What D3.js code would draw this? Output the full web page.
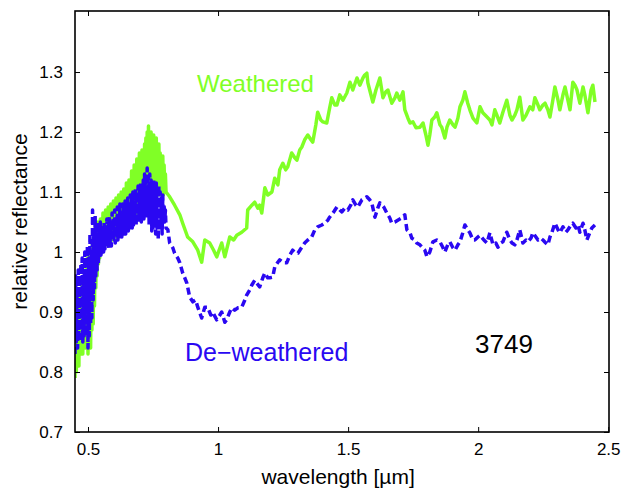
<!DOCTYPE html>
<html>
<head>
<meta charset="utf-8">
<script src="https://cdn.jsdelivr.net/npm/d3@7"></script>
<style>
  html, body { margin: 0; padding: 0; background: #fff; }
  svg { display: block; }
  text { font-family: "Liberation Sans", Arial, Helvetica, sans-serif; }
</style>
</head>
<body>
<svg id="chart" width="624" height="491"></svg>
<script>
// Reflectance spectra of asteroid 3749: weathered vs. de-weathered

// Visible range (dense, noisy CCD spectrum), shared wavelength grid [µm]
const visWavelength = [
  0.4500, 0.4525, 0.4550, 0.4575, 0.4600, 0.4625, 0.4650, 0.4675, 0.4700, 0.4725,
  0.4750, 0.4775, 0.4800, 0.4825, 0.4850, 0.4875, 0.4900, 0.4925, 0.4950, 0.4975,
  0.5000, 0.5025, 0.5050, 0.5075, 0.5100, 0.5125, 0.5150, 0.5175, 0.5200, 0.5225,
  0.5250, 0.5275, 0.5300, 0.5325, 0.5350, 0.5375, 0.5400, 0.5425, 0.5450, 0.5475,
  0.5500, 0.5525, 0.5550, 0.5575, 0.5600, 0.5625, 0.5650, 0.5675, 0.5700, 0.5725,
  0.5750, 0.5775, 0.5800, 0.5825, 0.5850, 0.5875, 0.5900, 0.5925, 0.5950, 0.5975,
  0.6000, 0.6025, 0.6050, 0.6075, 0.6100, 0.6125, 0.6150, 0.6175, 0.6200, 0.6225,
  0.6250, 0.6275, 0.6300, 0.6325, 0.6350, 0.6375, 0.6400, 0.6425, 0.6450, 0.6475,
  0.6500, 0.6525, 0.6550, 0.6575, 0.6600, 0.6625, 0.6650, 0.6675, 0.6700, 0.6725,
  0.6750, 0.6775, 0.6800, 0.6825, 0.6850, 0.6875, 0.6900, 0.6925, 0.6950, 0.6975,
  0.7000, 0.7025, 0.7050, 0.7075, 0.7100, 0.7125, 0.7150, 0.7175, 0.7200, 0.7225,
  0.7250, 0.7275, 0.7300, 0.7325, 0.7350, 0.7375, 0.7400, 0.7425, 0.7450, 0.7475,
  0.7500, 0.7525, 0.7550, 0.7575, 0.7600, 0.7625, 0.7650, 0.7675, 0.7700, 0.7725,
  0.7750, 0.7775, 0.7800, 0.7825, 0.7850, 0.7875, 0.7900, 0.7925, 0.7950, 0.7975,
  0.8000
];
const visWeathered = [
  0.79, 0.88, 0.80, 0.91, 0.82, 0.86, 0.81, 0.93, 0.83, 0.90,
  0.84, 0.95, 0.83, 0.92, 0.85, 0.97, 0.84, 0.94, 0.86, 0.99,
  0.83, 0.96, 0.85, 1.00, 0.84, 0.98, 0.87, 1.02, 0.88, 1.01,
  0.91, 1.04, 0.94, 1.02, 0.96, 1.05, 0.98, 1.035, 0.99, 1.055,
  1.00, 1.045, 1.00, 1.065, 1.01, 1.055, 1.01, 1.07, 1.015, 1.06,
  1.02, 1.075, 1.015, 1.065, 1.02, 1.08, 1.025, 1.07, 1.02, 1.085,
  1.025, 1.075, 1.03, 1.09, 1.025, 1.08, 1.03, 1.095, 1.035, 1.085,
  1.035, 1.10, 1.04, 1.09, 1.035, 1.105, 1.04, 1.10, 1.045, 1.115,
  1.045, 1.105, 1.05, 1.12, 1.045, 1.11, 1.055, 1.135, 1.05, 1.125,
  1.06, 1.145, 1.055, 1.13, 1.065, 1.155, 1.06, 1.145, 1.07, 1.165,
  1.065, 1.155, 1.075, 1.17, 1.07, 1.165, 1.08, 1.18, 1.075, 1.19,
  1.085, 1.20, 1.08, 1.21, 1.09, 1.18, 1.085, 1.20, 1.095, 1.185,
  1.09, 1.195, 1.10, 1.17, 1.095, 1.19, 1.10, 1.175, 1.095, 1.18,
  1.10, 1.165, 1.095, 1.155, 1.10, 1.16, 1.095, 1.145, 1.10, 1.13,
  1.10
];
const visDeweathered = [
  0.83, 0.96, 0.85, 0.93, 0.84, 0.97, 0.86, 0.95, 0.85, 0.98,
  0.87, 0.99, 0.85, 0.96, 0.86, 1.00, 0.87, 0.97, 0.86, 1.01,
  0.84, 0.99, 0.86, 1.03, 0.88, 1.00, 0.89, 1.07, 0.92, 1.04,
  0.94, 1.06, 0.96, 1.03, 0.97, 1.05, 0.98, 1.04, 0.99, 1.05,
  0.995, 1.045, 1.00, 1.035, 1.00, 1.05, 1.005, 1.04, 1.01, 1.055,
  1.01, 1.045, 1.005, 1.06, 1.015, 1.05, 1.01, 1.065, 1.02, 1.055,
  1.02, 1.07, 1.015, 1.06, 1.025, 1.075, 1.02, 1.065, 1.025, 1.08,
  1.03, 1.07, 1.025, 1.08, 1.03, 1.075, 1.035, 1.085, 1.03, 1.08,
  1.04, 1.09, 1.035, 1.085, 1.04, 1.095, 1.045, 1.09, 1.04, 1.10,
  1.045, 1.095, 1.05, 1.105, 1.045, 1.10, 1.055, 1.11, 1.05, 1.105,
  1.055, 1.115, 1.05, 1.11, 1.06, 1.12, 1.055, 1.13, 1.06, 1.12,
  1.055, 1.14, 1.06, 1.125, 1.045, 1.13, 1.05, 1.12, 1.035, 1.115,
  1.04, 1.12, 1.045, 1.105, 1.03, 1.115, 1.04, 1.10, 1.02, 1.11,
  1.035, 1.10, 1.04, 1.09, 1.03, 1.095, 1.045, 1.08, 1.05, 1.07,
  1.04
];

// Near-infrared range, weathered spectrum
const nirWavelengthW = [
  0.814, 0.833, 0.853, 0.864, 0.883, 0.903, 0.922, 0.937, 0.949, 0.968,
  0.983, 0.995, 1.014, 1.026, 1.045, 1.060, 1.072, 1.091, 1.110, 1.114,
  1.130, 1.141, 1.153, 1.160, 1.168, 1.180, 1.191, 1.207, 1.218, 1.230,
  1.237, 1.249, 1.260, 1.268, 1.283, 1.295, 1.303, 1.314, 1.322, 1.333,
  1.345, 1.357, 1.364, 1.376, 1.383, 1.395, 1.403, 1.418, 1.429, 1.437,
  1.449, 1.457, 1.468, 1.480, 1.495, 1.507, 1.518, 1.534, 1.545, 1.557,
  1.564, 1.572, 1.576, 1.583, 1.595, 1.607, 1.622, 1.634, 1.645, 1.653,
  1.668, 1.680, 1.687, 1.699, 1.711, 1.718, 1.730, 1.738, 1.749, 1.761,
  1.776, 1.788, 1.799, 1.807, 1.814, 1.822, 1.833, 1.841, 1.853, 1.860,
  1.872, 1.880, 1.891, 1.903, 1.911, 1.922, 1.930, 1.941, 1.949, 1.960,
  1.968, 1.980, 1.995, 2.007, 2.018, 2.034, 2.045, 2.053, 2.064, 2.072,
  2.083, 2.095, 2.110, 2.122, 2.130, 2.141, 2.149, 2.160, 2.172, 2.184,
  2.199, 2.210, 2.218, 2.230, 2.237, 2.249, 2.257, 2.268, 2.276, 2.287,
  2.295, 2.307, 2.314, 2.326, 2.334, 2.345, 2.353, 2.364, 2.372, 2.380,
  2.391, 2.403, 2.410, 2.422, 2.434, 2.441, 2.449
];
const nirWeathered = [
  1.092, 1.078, 1.062, 1.048, 1.025, 1.017, 1.003, 0.983, 1.020, 1.015,
  1.003, 0.992, 1.015, 0.992, 1.025, 1.020, 1.028, 1.033, 1.040, 1.070,
  1.078, 1.083, 1.073, 1.078, 1.065, 1.107, 1.095, 1.100, 1.123, 1.112,
  1.137, 1.148, 1.137, 1.142, 1.165, 1.157, 1.153, 1.170, 1.175, 1.187,
  1.195, 1.187, 1.183, 1.212, 1.233, 1.220, 1.217, 1.215, 1.240, 1.257,
  1.245, 1.245, 1.262, 1.253, 1.265, 1.283, 1.270, 1.290, 1.278, 1.290,
  1.295, 1.298, 1.282, 1.270, 1.250, 1.270, 1.290, 1.257, 1.267, 1.270,
  1.248, 1.257, 1.265, 1.253, 1.267, 1.237, 1.223, 1.215, 1.217, 1.207,
  1.208, 1.215, 1.195, 1.178, 1.195, 1.220, 1.225, 1.232, 1.212, 1.208,
  1.190, 1.208, 1.220, 1.212, 1.208, 1.223, 1.242, 1.253, 1.267, 1.248,
  1.237, 1.223, 1.215, 1.242, 1.232, 1.225, 1.220, 1.212, 1.237, 1.228,
  1.215, 1.233, 1.253, 1.228, 1.220, 1.228, 1.237, 1.258, 1.220, 1.228,
  1.242, 1.237, 1.257, 1.245, 1.237, 1.245, 1.248, 1.237, 1.225, 1.253,
  1.275, 1.253, 1.237, 1.262, 1.275, 1.253, 1.237, 1.283, 1.278, 1.270,
  1.248, 1.275, 1.262, 1.232, 1.270, 1.278, 1.250
];

// Near-infrared range, de-weathered spectrum
const nirWavelengthD = [
  0.807, 0.814, 0.826, 0.833, 0.845, 0.853, 0.864, 0.872, 0.880, 0.891,
  0.903, 0.914, 0.922, 0.937, 0.949, 0.960, 0.972, 0.979, 0.995, 1.007,
  1.014, 1.026, 1.033, 1.045, 1.053, 1.064, 1.076, 1.091, 1.103, 1.110,
  1.122, 1.130, 1.141, 1.149, 1.160, 1.172, 1.180, 1.191, 1.199, 1.210,
  1.218, 1.230, 1.237, 1.253, 1.264, 1.276, 1.287, 1.299, 1.307, 1.322,
  1.333, 1.345, 1.360, 1.372, 1.383, 1.399, 1.410, 1.422, 1.429, 1.445,
  1.457, 1.468, 1.476, 1.487, 1.499, 1.510, 1.518, 1.530, 1.537, 1.553,
  1.564, 1.572, 1.583, 1.591, 1.603, 1.614, 1.622, 1.637, 1.649, 1.660,
  1.668, 1.680, 1.691, 1.707, 1.718, 1.726, 1.738, 1.745, 1.757, 1.764,
  1.776, 1.784, 1.795, 1.803, 1.814, 1.826, 1.841, 1.853, 1.864, 1.872,
  1.883, 1.891, 1.903, 1.911, 1.922, 1.930, 1.941, 1.949, 1.960, 1.968,
  1.980, 1.987, 1.999, 2.007, 2.022, 2.034, 2.045, 2.057, 2.068, 2.076,
  2.087, 2.095, 2.110, 2.122, 2.130, 2.141, 2.149, 2.160, 2.172, 2.184,
  2.191, 2.203, 2.210, 2.222, 2.230, 2.241, 2.249, 2.260, 2.268, 2.276,
  2.283, 2.295, 2.307, 2.314, 2.326, 2.337, 2.345, 2.357, 2.364, 2.376,
  2.384, 2.391, 2.403, 2.410, 2.418, 2.430, 2.437, 2.449
];
const nirDeweathered = [
  1.037, 1.015, 1.007, 0.998, 0.990, 0.982, 0.965, 0.957, 0.948, 0.925,
  0.917, 0.920, 0.908, 0.890, 0.908, 0.908, 0.895, 0.900, 0.887, 0.895,
  0.900, 0.883, 0.887, 0.900, 0.907, 0.903, 0.907, 0.908, 0.920, 0.928,
  0.937, 0.945, 0.953, 0.948, 0.942, 0.957, 0.965, 0.957, 0.957, 0.958,
  0.975, 0.983, 0.987, 0.982, 0.982, 0.995, 1.003, 0.998, 0.998, 1.008,
  1.015, 1.020, 1.025, 1.037, 1.042, 1.045, 1.048, 1.053, 1.058, 1.067,
  1.075, 1.070, 1.067, 1.073, 1.070, 1.078, 1.087, 1.078, 1.075, 1.087,
  1.090, 1.092, 1.087, 1.082, 1.058, 1.073, 1.082, 1.075, 1.065, 1.057,
  1.048, 1.050, 1.053, 1.057, 1.062, 1.037, 1.032, 1.023, 1.020, 1.015,
  1.012, 1.008, 1.003, 0.992, 1.000, 1.017, 1.020, 1.017, 1.008, 1.000,
  1.012, 1.017, 1.007, 1.003, 1.012, 1.017, 1.032, 1.045, 1.037, 1.032,
  1.020, 1.020, 1.025, 1.028, 1.020, 1.015, 1.032, 1.012, 1.015, 1.008,
  1.015, 1.017, 1.033, 1.020, 1.015, 1.012, 1.020, 1.037, 1.015, 1.020,
  1.017, 1.023, 1.032, 1.025, 1.020, 1.023, 1.020, 1.015, 1.012, 1.025,
  1.032, 1.048, 1.037, 1.032, 1.042, 1.033, 1.037, 1.045, 1.048, 1.040,
  1.045, 1.033, 1.048, 1.037, 1.020, 1.033, 1.040, 1.045
];

const xTicks = [0.5, 1, 1.5, 2, 2.5];
const xTickLabels = ["0.5", "1", "1.5", "2", "2.5"];
const yTicks = [0.7, 0.8, 0.9, 1, 1.1, 1.2, 1.3];
const yTickLabels = ["0.7", "0.8", "0.9", "1", "1.1", "1.2", "1.3"];

const seriesNames = ["Weathered", "De\u2212weathered"];
const asteroidId = "3749";

const colWeathered = "#80ff26";
const colDeweathered = "#2a08f2";

// ---- layout ----
const svg = d3.select("#chart");
const margin = { left: 75, right: 15, top: 11, bottom: 59 };
const W = 624, H = 491;
const plotW = W - margin.left - margin.right;
const plotH = H - margin.top - margin.bottom;

const x = d3.scaleLinear().domain([0.45, 2.503]).range([0, plotW]);
const y = d3.scaleLinear().domain([0.7, 1.4017]).range([plotH, 0]);

const g = svg.append("g").attr("transform", `translate(${margin.left},${margin.top})`);

g.append("clipPath").attr("id", "plotclip")
  .append("rect").attr("width", plotW).attr("height", plotH);

const zip = (ws, rs) => ws.map((w, i) => [w, rs[i]]);
const weathered = zip(visWavelength, visWeathered).concat(zip(nirWavelengthW, nirWeathered));
const deweathered = zip(visWavelength, visDeweathered).concat(zip(nirWavelengthD, nirDeweathered));

const line = d3.line().x(d => x(d[0])).y(d => y(d[1]));

const plot = g.append("g").attr("clip-path", "url(#plotclip)");

plot.append("path")
  .datum(weathered)
  .attr("d", line)
  .attr("fill", "none")
  .attr("stroke", colWeathered)
  .attr("stroke-width", 3.5)
  .attr("stroke-linejoin", "round");

plot.append("path")
  .datum(deweathered)
  .attr("d", line)
  .attr("fill", "none")
  .attr("stroke", colDeweathered)
  .attr("stroke-width", 3.5)
  .attr("stroke-dasharray", "7,4")
  .attr("stroke-linejoin", "round");

// ---- axes (ticks pointing inward on all four sides) ----
const tickLen = 5;
const axisStyle = sel => {
  sel.select(".domain").remove();
  sel.selectAll(".tick line").attr("stroke", "#000").attr("stroke-width", 1);
  sel.selectAll(".tick text").attr("fill", "#000")
    .style("font-size", "17px")
    .style("font-family", "'Liberation Sans', Arial, sans-serif");
};

g.append("g")
  .attr("transform", `translate(0,${plotH})`)
  .call(d3.axisBottom(x).tickValues(xTicks).tickFormat((d, i) => xTickLabels[i])
    .tickSizeInner(-tickLen).tickSizeOuter(0).tickPadding(11))
  .call(axisStyle);

g.append("g")
  .call(d3.axisTop(x).tickValues(xTicks).tickFormat("")
    .tickSizeInner(-tickLen).tickSizeOuter(0))
  .call(axisStyle);

g.append("g")
  .call(d3.axisLeft(y).tickValues(yTicks).tickFormat((d, i) => yTickLabels[i])
    .tickSizeInner(-tickLen).tickSizeOuter(0).tickPadding(12))
  .call(axisStyle);

g.append("g")
  .attr("transform", `translate(${plotW},0)`)
  .call(d3.axisRight(y).tickValues(yTicks).tickFormat("")
    .tickSizeInner(-tickLen).tickSizeOuter(0))
  .call(axisStyle);

// frame
g.append("rect")
  .attr("width", plotW).attr("height", plotH)
  .attr("fill", "none").attr("stroke", "#000").attr("stroke-width", 1.6);

// ---- axis titles ----
svg.append("text")
  .attr("x", margin.left + x(1.5) - 10).attr("y", 484)
  .attr("text-anchor", "middle")
  .style("font-size", "21px")
  .text("wavelength [\u00b5m]");

svg.append("text")
  .attr("transform", `translate(27,${margin.top + plotH / 2}) rotate(-90)`)
  .attr("text-anchor", "middle")
  .style("font-size", "21px")
  .text("relative reflectance");

// ---- in-plot annotations ----
g.append("text")
  .attr("fill", colWeathered)
  .style("font-size", "24px")
  .attr("x", 197 - margin.left).attr("y", 92 - margin.top)
  .text(seriesNames[0]);

g.append("text")
  .attr("fill", colDeweathered)
  .style("font-size", "25px")
  .attr("x", 185 - margin.left).attr("y", 361 - margin.top)
  .text(seriesNames[1]);

g.append("text")
  .attr("fill", "#000")
  .style("font-size", "26px")
  .attr("x", 475 - margin.left).attr("y", 353 - margin.top)
  .text(asteroidId);
</script>
</body>
</html>
